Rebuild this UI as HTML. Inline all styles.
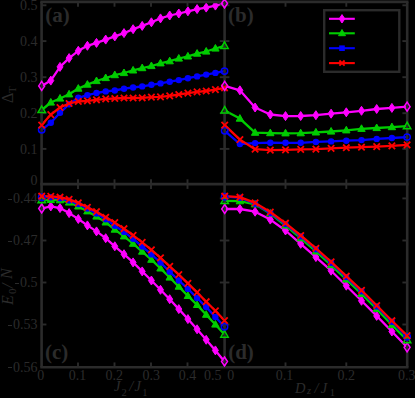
<!DOCTYPE html>
<html><head><meta charset="utf-8"><title>fig</title>
<style>
html,body{margin:0;padding:0;background:#000;}
#f{position:relative;width:415px;height:398px;background:#000;overflow:hidden;font-family:"Liberation Serif",serif;color:#2b2b2b;}
.t{position:absolute;font-size:14px;line-height:14px;white-space:nowrap;}
.r{text-align:right;width:40px;}
.m{display:inline-block;width:4.6px;height:1.2px;background:#2b2b2b;vertical-align:3.6px;margin-right:1px;}
.c{text-align:center;width:40px;}
.p{position:absolute;font-size:21px;line-height:21px;font-weight:bold;white-space:nowrap;}
.i{position:absolute;font-style:italic;white-space:nowrap;}
</style></head><body><div id="f">

<svg width="415" height="398" viewBox="0 0 415 398" style="position:absolute;left:0;top:0">
<polyline points="41.7,85.9 50.8,80.6 60.0,66.9 69.1,58.1 78.3,50.8 87.4,45.8 96.5,42.9 105.7,39.6 114.8,36.4 124.0,33.1 133.1,29.2 142.2,25.9 151.4,22.3 160.5,18.4 169.7,15.5 178.8,13.5 187.9,11.3 197.1,9.1 206.2,7.6 215.4,5.6 224.5,3.5" fill="none" stroke="#ff00ff" stroke-width="2.3" stroke-linejoin="round"/>
<path d="M50.8 76.1L53.8 80.6L50.8 85.1L47.8 80.6Z" fill="#ff00ff" stroke="#ff00ff" stroke-width="1"/>
<path d="M60.0 62.4L63.0 66.9L60.0 71.4L57.0 66.9Z" fill="#ff00ff" stroke="#ff00ff" stroke-width="1"/>
<path d="M69.1 53.6L72.1 58.1L69.1 62.6L66.1 58.1Z" fill="#ff00ff" stroke="#ff00ff" stroke-width="1"/>
<path d="M78.3 46.3L81.3 50.8L78.3 55.3L75.3 50.8Z" fill="#ff00ff" stroke="#ff00ff" stroke-width="1"/>
<path d="M87.4 41.3L90.4 45.8L87.4 50.3L84.4 45.8Z" fill="#ff00ff" stroke="#ff00ff" stroke-width="1"/>
<path d="M96.5 38.4L99.5 42.9L96.5 47.4L93.5 42.9Z" fill="#ff00ff" stroke="#ff00ff" stroke-width="1"/>
<path d="M105.7 35.1L108.7 39.6L105.7 44.1L102.7 39.6Z" fill="#ff00ff" stroke="#ff00ff" stroke-width="1"/>
<path d="M114.8 31.9L117.8 36.4L114.8 40.9L111.8 36.4Z" fill="#ff00ff" stroke="#ff00ff" stroke-width="1"/>
<path d="M124.0 28.6L127.0 33.1L124.0 37.6L121.0 33.1Z" fill="#ff00ff" stroke="#ff00ff" stroke-width="1"/>
<path d="M133.1 24.7L136.1 29.2L133.1 33.7L130.1 29.2Z" fill="#ff00ff" stroke="#ff00ff" stroke-width="1"/>
<path d="M142.2 21.4L145.2 25.9L142.2 30.4L139.2 25.9Z" fill="#ff00ff" stroke="#ff00ff" stroke-width="1"/>
<path d="M151.4 17.8L154.4 22.3L151.4 26.8L148.4 22.3Z" fill="#ff00ff" stroke="#ff00ff" stroke-width="1"/>
<path d="M160.5 13.9L163.5 18.4L160.5 22.9L157.5 18.4Z" fill="#ff00ff" stroke="#ff00ff" stroke-width="1"/>
<path d="M169.7 11.0L172.7 15.5L169.7 20.0L166.7 15.5Z" fill="#ff00ff" stroke="#ff00ff" stroke-width="1"/>
<path d="M178.8 9.0L181.8 13.5L178.8 18.0L175.8 13.5Z" fill="#ff00ff" stroke="#ff00ff" stroke-width="1"/>
<path d="M187.9 6.8L190.9 11.3L187.9 15.8L184.9 11.3Z" fill="#ff00ff" stroke="#ff00ff" stroke-width="1"/>
<path d="M197.1 4.6L200.1 9.1L197.1 13.6L194.1 9.1Z" fill="#ff00ff" stroke="#ff00ff" stroke-width="1"/>
<path d="M206.2 3.1L209.2 7.6L206.2 12.1L203.2 7.6Z" fill="#ff00ff" stroke="#ff00ff" stroke-width="1"/>
<path d="M215.4 1.1L218.4 5.6L215.4 10.1L212.4 5.6Z" fill="#ff00ff" stroke="#ff00ff" stroke-width="1"/>
<polyline points="41.7,110.0 50.8,102.5 60.0,98.5 69.1,94.3 78.3,88.6 87.4,84.6 96.5,81.0 105.7,78.0 114.8,75.1 124.0,73.0 133.1,70.4 142.2,68.1 151.4,66.0 160.5,63.3 169.7,61.2 178.8,58.5 187.9,56.4 197.1,53.6 206.2,51.5 215.4,48.5 224.5,45.9" fill="none" stroke="#00cc00" stroke-width="2.3" stroke-linejoin="round"/>
<path d="M50.8 98.5L54.5 105.1L47.1 105.1Z" fill="#00cc00" stroke="#00cc00" stroke-width="1"/>
<path d="M60.0 94.5L63.7 101.1L56.3 101.1Z" fill="#00cc00" stroke="#00cc00" stroke-width="1"/>
<path d="M69.1 90.3L72.8 96.9L65.4 96.9Z" fill="#00cc00" stroke="#00cc00" stroke-width="1"/>
<path d="M78.3 84.6L82.0 91.2L74.6 91.2Z" fill="#00cc00" stroke="#00cc00" stroke-width="1"/>
<path d="M87.4 80.6L91.1 87.2L83.7 87.2Z" fill="#00cc00" stroke="#00cc00" stroke-width="1"/>
<path d="M96.5 77.0L100.2 83.6L92.8 83.6Z" fill="#00cc00" stroke="#00cc00" stroke-width="1"/>
<path d="M105.7 74.0L109.4 80.6L102.0 80.6Z" fill="#00cc00" stroke="#00cc00" stroke-width="1"/>
<path d="M114.8 71.1L118.5 77.7L111.1 77.7Z" fill="#00cc00" stroke="#00cc00" stroke-width="1"/>
<path d="M124.0 69.0L127.7 75.6L120.3 75.6Z" fill="#00cc00" stroke="#00cc00" stroke-width="1"/>
<path d="M133.1 66.4L136.8 73.0L129.4 73.0Z" fill="#00cc00" stroke="#00cc00" stroke-width="1"/>
<path d="M142.2 64.1L145.9 70.7L138.5 70.7Z" fill="#00cc00" stroke="#00cc00" stroke-width="1"/>
<path d="M151.4 62.0L155.1 68.6L147.7 68.6Z" fill="#00cc00" stroke="#00cc00" stroke-width="1"/>
<path d="M160.5 59.3L164.2 65.9L156.8 65.9Z" fill="#00cc00" stroke="#00cc00" stroke-width="1"/>
<path d="M169.7 57.2L173.4 63.8L166.0 63.8Z" fill="#00cc00" stroke="#00cc00" stroke-width="1"/>
<path d="M178.8 54.5L182.5 61.1L175.1 61.1Z" fill="#00cc00" stroke="#00cc00" stroke-width="1"/>
<path d="M187.9 52.4L191.6 59.0L184.2 59.0Z" fill="#00cc00" stroke="#00cc00" stroke-width="1"/>
<path d="M197.1 49.6L200.8 56.2L193.4 56.2Z" fill="#00cc00" stroke="#00cc00" stroke-width="1"/>
<path d="M206.2 47.5L209.9 54.1L202.5 54.1Z" fill="#00cc00" stroke="#00cc00" stroke-width="1"/>
<path d="M215.4 44.5L219.1 51.1L211.7 51.1Z" fill="#00cc00" stroke="#00cc00" stroke-width="1"/>
<polyline points="41.7,129.8 50.8,122.7 60.0,112.8 69.1,104.2 78.3,97.8 87.4,95.1 96.5,93.0 105.7,91.4 114.8,90.5 124.0,88.7 133.1,87.5 142.2,86.4 151.4,84.8 160.5,83.4 169.7,81.7 178.8,80.1 187.9,78.2 197.1,76.4 206.2,74.6 215.4,72.9 224.5,71.1" fill="none" stroke="#0000ff" stroke-width="2.3" stroke-linejoin="round"/>
<circle cx="50.8" cy="122.7" r="3.2" fill="#0000ff"/>
<circle cx="60.0" cy="112.8" r="3.2" fill="#0000ff"/>
<circle cx="69.1" cy="104.2" r="3.2" fill="#0000ff"/>
<circle cx="78.3" cy="97.8" r="3.2" fill="#0000ff"/>
<circle cx="87.4" cy="95.1" r="3.2" fill="#0000ff"/>
<circle cx="96.5" cy="93.0" r="3.2" fill="#0000ff"/>
<circle cx="105.7" cy="91.4" r="3.2" fill="#0000ff"/>
<circle cx="114.8" cy="90.5" r="3.2" fill="#0000ff"/>
<circle cx="124.0" cy="88.7" r="3.2" fill="#0000ff"/>
<circle cx="133.1" cy="87.5" r="3.2" fill="#0000ff"/>
<circle cx="142.2" cy="86.4" r="3.2" fill="#0000ff"/>
<circle cx="151.4" cy="84.8" r="3.2" fill="#0000ff"/>
<circle cx="160.5" cy="83.4" r="3.2" fill="#0000ff"/>
<circle cx="169.7" cy="81.7" r="3.2" fill="#0000ff"/>
<circle cx="178.8" cy="80.1" r="3.2" fill="#0000ff"/>
<circle cx="187.9" cy="78.2" r="3.2" fill="#0000ff"/>
<circle cx="197.1" cy="76.4" r="3.2" fill="#0000ff"/>
<circle cx="206.2" cy="74.6" r="3.2" fill="#0000ff"/>
<circle cx="215.4" cy="72.9" r="3.2" fill="#0000ff"/>
<polyline points="41.7,125.1 50.8,114.6 60.0,107.5 69.1,103.5 78.3,101.5 87.4,100.8 96.5,99.8 105.7,98.9 114.8,98.5 124.0,98.0 133.1,98.0 142.2,97.8 151.4,97.1 160.5,96.9 169.7,95.9 178.8,94.5 187.9,93.1 197.1,91.9 206.2,91.0 215.4,89.6 224.5,87.8" fill="none" stroke="#ff0000" stroke-width="2.3" stroke-linejoin="round"/>
<path d="M47.6 111.4L54.0 117.8M47.6 117.8L54.0 111.4" stroke="#ff0000" stroke-width="1.8" fill="none"/>
<path d="M56.8 104.3L63.2 110.7M56.8 110.7L63.2 104.3" stroke="#ff0000" stroke-width="1.8" fill="none"/>
<path d="M65.9 100.3L72.3 106.7M65.9 106.7L72.3 100.3" stroke="#ff0000" stroke-width="1.8" fill="none"/>
<path d="M75.1 98.3L81.5 104.7M75.1 104.7L81.5 98.3" stroke="#ff0000" stroke-width="1.8" fill="none"/>
<path d="M84.2 97.6L90.6 104.0M84.2 104.0L90.6 97.6" stroke="#ff0000" stroke-width="1.8" fill="none"/>
<path d="M93.3 96.6L99.7 103.0M93.3 103.0L99.7 96.6" stroke="#ff0000" stroke-width="1.8" fill="none"/>
<path d="M102.5 95.7L108.9 102.1M102.5 102.1L108.9 95.7" stroke="#ff0000" stroke-width="1.8" fill="none"/>
<path d="M111.6 95.3L118.0 101.7M111.6 101.7L118.0 95.3" stroke="#ff0000" stroke-width="1.8" fill="none"/>
<path d="M120.8 94.8L127.2 101.2M120.8 101.2L127.2 94.8" stroke="#ff0000" stroke-width="1.8" fill="none"/>
<path d="M129.9 94.8L136.3 101.2M129.9 101.2L136.3 94.8" stroke="#ff0000" stroke-width="1.8" fill="none"/>
<path d="M139.0 94.6L145.4 101.0M139.0 101.0L145.4 94.6" stroke="#ff0000" stroke-width="1.8" fill="none"/>
<path d="M148.2 93.9L154.6 100.3M148.2 100.3L154.6 93.9" stroke="#ff0000" stroke-width="1.8" fill="none"/>
<path d="M157.3 93.7L163.7 100.1M157.3 100.1L163.7 93.7" stroke="#ff0000" stroke-width="1.8" fill="none"/>
<path d="M166.5 92.7L172.9 99.1M166.5 99.1L172.9 92.7" stroke="#ff0000" stroke-width="1.8" fill="none"/>
<path d="M175.6 91.3L182.0 97.7M175.6 97.7L182.0 91.3" stroke="#ff0000" stroke-width="1.8" fill="none"/>
<path d="M184.7 89.9L191.1 96.3M184.7 96.3L191.1 89.9" stroke="#ff0000" stroke-width="1.8" fill="none"/>
<path d="M193.9 88.7L200.3 95.1M193.9 95.1L200.3 88.7" stroke="#ff0000" stroke-width="1.8" fill="none"/>
<path d="M203.0 87.8L209.4 94.2M203.0 94.2L209.4 87.8" stroke="#ff0000" stroke-width="1.8" fill="none"/>
<path d="M212.2 86.4L218.6 92.8M212.2 92.8L218.6 86.4" stroke="#ff0000" stroke-width="1.8" fill="none"/>
<polyline points="224.7,85.9 239.9,90.3 255.1,107.5 270.3,114.5 285.5,116.1 300.7,116.0 315.9,115.2 331.1,113.7 346.3,112.3 361.5,110.8 376.7,109.0 391.9,107.9 407.1,106.7" fill="none" stroke="#ff00ff" stroke-width="2.3" stroke-linejoin="round"/>
<path d="M239.9 85.8L242.9 90.3L239.9 94.8L236.9 90.3Z" fill="#ff00ff" stroke="#ff00ff" stroke-width="1"/>
<path d="M255.1 103.0L258.1 107.5L255.1 112.0L252.1 107.5Z" fill="#ff00ff" stroke="#ff00ff" stroke-width="1"/>
<path d="M270.3 110.0L273.3 114.5L270.3 119.0L267.3 114.5Z" fill="#ff00ff" stroke="#ff00ff" stroke-width="1"/>
<path d="M285.5 111.6L288.5 116.1L285.5 120.6L282.5 116.1Z" fill="#ff00ff" stroke="#ff00ff" stroke-width="1"/>
<path d="M300.7 111.5L303.7 116.0L300.7 120.5L297.7 116.0Z" fill="#ff00ff" stroke="#ff00ff" stroke-width="1"/>
<path d="M315.9 110.7L318.9 115.2L315.9 119.7L312.9 115.2Z" fill="#ff00ff" stroke="#ff00ff" stroke-width="1"/>
<path d="M331.1 109.2L334.1 113.7L331.1 118.2L328.1 113.7Z" fill="#ff00ff" stroke="#ff00ff" stroke-width="1"/>
<path d="M346.3 107.8L349.3 112.3L346.3 116.8L343.3 112.3Z" fill="#ff00ff" stroke="#ff00ff" stroke-width="1"/>
<path d="M361.5 106.3L364.5 110.8L361.5 115.3L358.5 110.8Z" fill="#ff00ff" stroke="#ff00ff" stroke-width="1"/>
<path d="M376.7 104.5L379.7 109.0L376.7 113.5L373.7 109.0Z" fill="#ff00ff" stroke="#ff00ff" stroke-width="1"/>
<path d="M391.9 103.4L394.9 107.9L391.9 112.4L388.9 107.9Z" fill="#ff00ff" stroke="#ff00ff" stroke-width="1"/>
<polyline points="224.7,110.5 239.9,118.6 255.1,132.7 270.3,133.1 285.5,133.3 300.7,133.2 315.9,132.4 331.1,131.5 346.3,130.3 361.5,128.8 376.7,128.0 391.9,127.1 407.1,126.2" fill="none" stroke="#00cc00" stroke-width="2.3" stroke-linejoin="round"/>
<path d="M239.9 114.6L243.6 121.2L236.2 121.2Z" fill="#00cc00" stroke="#00cc00" stroke-width="1"/>
<path d="M255.1 128.7L258.8 135.3L251.4 135.3Z" fill="#00cc00" stroke="#00cc00" stroke-width="1"/>
<path d="M270.3 129.1L274.0 135.7L266.6 135.7Z" fill="#00cc00" stroke="#00cc00" stroke-width="1"/>
<path d="M285.5 129.3L289.2 135.9L281.8 135.9Z" fill="#00cc00" stroke="#00cc00" stroke-width="1"/>
<path d="M300.7 129.2L304.4 135.8L297.0 135.8Z" fill="#00cc00" stroke="#00cc00" stroke-width="1"/>
<path d="M315.9 128.4L319.6 135.0L312.2 135.0Z" fill="#00cc00" stroke="#00cc00" stroke-width="1"/>
<path d="M331.1 127.5L334.8 134.1L327.4 134.1Z" fill="#00cc00" stroke="#00cc00" stroke-width="1"/>
<path d="M346.3 126.3L350.0 132.9L342.6 132.9Z" fill="#00cc00" stroke="#00cc00" stroke-width="1"/>
<path d="M361.5 124.8L365.2 131.4L357.8 131.4Z" fill="#00cc00" stroke="#00cc00" stroke-width="1"/>
<path d="M376.7 124.0L380.4 130.6L373.0 130.6Z" fill="#00cc00" stroke="#00cc00" stroke-width="1"/>
<path d="M391.9 123.1L395.6 129.7L388.2 129.7Z" fill="#00cc00" stroke="#00cc00" stroke-width="1"/>
<polyline points="224.7,130.8 239.9,144.0 255.1,143.1 270.3,142.7 285.5,142.8 300.7,142.8 315.9,141.9 331.1,141.4 346.3,140.7 361.5,140.1 376.7,138.9 391.9,138.0 407.1,137.1" fill="none" stroke="#0000ff" stroke-width="2.3" stroke-linejoin="round"/>
<circle cx="239.9" cy="144.0" r="3.2" fill="#0000ff"/>
<circle cx="255.1" cy="143.1" r="3.2" fill="#0000ff"/>
<circle cx="270.3" cy="142.7" r="3.2" fill="#0000ff"/>
<circle cx="285.5" cy="142.8" r="3.2" fill="#0000ff"/>
<circle cx="300.7" cy="142.8" r="3.2" fill="#0000ff"/>
<circle cx="315.9" cy="141.9" r="3.2" fill="#0000ff"/>
<circle cx="331.1" cy="141.4" r="3.2" fill="#0000ff"/>
<circle cx="346.3" cy="140.7" r="3.2" fill="#0000ff"/>
<circle cx="361.5" cy="140.1" r="3.2" fill="#0000ff"/>
<circle cx="376.7" cy="138.9" r="3.2" fill="#0000ff"/>
<circle cx="391.9" cy="138.0" r="3.2" fill="#0000ff"/>
<polyline points="224.7,125.1 239.9,139.6 255.1,149.2 270.3,150.1 285.5,149.9 300.7,149.4 315.9,149.1 331.1,148.4 346.3,147.7 361.5,147.2 376.7,146.6 391.9,145.9 407.1,144.9" fill="none" stroke="#ff0000" stroke-width="2.3" stroke-linejoin="round"/>
<path d="M236.7 136.4L243.1 142.8M236.7 142.8L243.1 136.4" stroke="#ff0000" stroke-width="1.8" fill="none"/>
<path d="M251.9 146.0L258.3 152.4M251.9 152.4L258.3 146.0" stroke="#ff0000" stroke-width="1.8" fill="none"/>
<path d="M267.1 146.9L273.5 153.3M267.1 153.3L273.5 146.9" stroke="#ff0000" stroke-width="1.8" fill="none"/>
<path d="M282.3 146.7L288.7 153.1M282.3 153.1L288.7 146.7" stroke="#ff0000" stroke-width="1.8" fill="none"/>
<path d="M297.5 146.2L303.9 152.6M297.5 152.6L303.9 146.2" stroke="#ff0000" stroke-width="1.8" fill="none"/>
<path d="M312.7 145.9L319.1 152.3M312.7 152.3L319.1 145.9" stroke="#ff0000" stroke-width="1.8" fill="none"/>
<path d="M327.9 145.2L334.3 151.6M327.9 151.6L334.3 145.2" stroke="#ff0000" stroke-width="1.8" fill="none"/>
<path d="M343.1 144.5L349.5 150.9M343.1 150.9L349.5 144.5" stroke="#ff0000" stroke-width="1.8" fill="none"/>
<path d="M358.3 144.0L364.7 150.4M358.3 150.4L364.7 144.0" stroke="#ff0000" stroke-width="1.8" fill="none"/>
<path d="M373.5 143.4L379.9 149.8M373.5 149.8L379.9 143.4" stroke="#ff0000" stroke-width="1.8" fill="none"/>
<path d="M388.7 142.7L395.1 149.1M388.7 149.1L395.1 142.7" stroke="#ff0000" stroke-width="1.8" fill="none"/>
<polyline points="41.7,208.5 50.8,206.4 60.0,208.1 69.1,213.1 78.3,219.0 87.4,225.4 96.5,231.4 105.7,238.2 114.8,246.3 124.0,254.2 133.1,262.4 142.2,271.4 151.4,280.5 160.5,289.8 169.7,299.2 178.8,309.1 187.9,319.1 197.1,329.3 206.2,339.8 215.4,350.4 224.5,361.5" fill="none" stroke="#ff00ff" stroke-width="2.3" stroke-linejoin="round"/>
<path d="M50.8 201.9L53.8 206.4L50.8 210.9L47.8 206.4Z" fill="#ff00ff" stroke="#ff00ff" stroke-width="1"/>
<path d="M60.0 203.6L63.0 208.1L60.0 212.6L57.0 208.1Z" fill="#ff00ff" stroke="#ff00ff" stroke-width="1"/>
<path d="M69.1 208.6L72.1 213.1L69.1 217.6L66.1 213.1Z" fill="#ff00ff" stroke="#ff00ff" stroke-width="1"/>
<path d="M78.3 214.5L81.3 219.0L78.3 223.5L75.3 219.0Z" fill="#ff00ff" stroke="#ff00ff" stroke-width="1"/>
<path d="M87.4 220.9L90.4 225.4L87.4 229.9L84.4 225.4Z" fill="#ff00ff" stroke="#ff00ff" stroke-width="1"/>
<path d="M96.5 226.9L99.5 231.4L96.5 235.9L93.5 231.4Z" fill="#ff00ff" stroke="#ff00ff" stroke-width="1"/>
<path d="M105.7 233.7L108.7 238.2L105.7 242.7L102.7 238.2Z" fill="#ff00ff" stroke="#ff00ff" stroke-width="1"/>
<path d="M114.8 241.8L117.8 246.3L114.8 250.8L111.8 246.3Z" fill="#ff00ff" stroke="#ff00ff" stroke-width="1"/>
<path d="M124.0 249.7L127.0 254.2L124.0 258.7L121.0 254.2Z" fill="#ff00ff" stroke="#ff00ff" stroke-width="1"/>
<path d="M133.1 257.9L136.1 262.4L133.1 266.9L130.1 262.4Z" fill="#ff00ff" stroke="#ff00ff" stroke-width="1"/>
<path d="M142.2 266.9L145.2 271.4L142.2 275.9L139.2 271.4Z" fill="#ff00ff" stroke="#ff00ff" stroke-width="1"/>
<path d="M151.4 276.0L154.4 280.5L151.4 285.0L148.4 280.5Z" fill="#ff00ff" stroke="#ff00ff" stroke-width="1"/>
<path d="M160.5 285.3L163.5 289.8L160.5 294.3L157.5 289.8Z" fill="#ff00ff" stroke="#ff00ff" stroke-width="1"/>
<path d="M169.7 294.7L172.7 299.2L169.7 303.7L166.7 299.2Z" fill="#ff00ff" stroke="#ff00ff" stroke-width="1"/>
<path d="M178.8 304.6L181.8 309.1L178.8 313.6L175.8 309.1Z" fill="#ff00ff" stroke="#ff00ff" stroke-width="1"/>
<path d="M187.9 314.6L190.9 319.1L187.9 323.6L184.9 319.1Z" fill="#ff00ff" stroke="#ff00ff" stroke-width="1"/>
<path d="M197.1 324.8L200.1 329.3L197.1 333.8L194.1 329.3Z" fill="#ff00ff" stroke="#ff00ff" stroke-width="1"/>
<path d="M206.2 335.3L209.2 339.8L206.2 344.3L203.2 339.8Z" fill="#ff00ff" stroke="#ff00ff" stroke-width="1"/>
<path d="M215.4 345.9L218.4 350.4L215.4 354.9L212.4 350.4Z" fill="#ff00ff" stroke="#ff00ff" stroke-width="1"/>
<polyline points="41.7,200.2 50.8,199.9 60.0,200.2 69.1,202.5 78.3,206.4 87.4,211.3 96.5,216.5 105.7,222.4 114.8,229.6 124.0,236.3 133.1,243.7 142.2,251.6 151.4,259.7 160.5,268.4 169.7,277.5 178.8,286.6 187.9,295.9 197.1,304.9 206.2,314.7 215.4,324.5 224.5,334.6" fill="none" stroke="#00cc00" stroke-width="2.3" stroke-linejoin="round"/>
<path d="M50.8 195.9L54.5 202.5L47.1 202.5Z" fill="#00cc00" stroke="#00cc00" stroke-width="1"/>
<path d="M60.0 196.2L63.7 202.8L56.3 202.8Z" fill="#00cc00" stroke="#00cc00" stroke-width="1"/>
<path d="M69.1 198.5L72.8 205.1L65.4 205.1Z" fill="#00cc00" stroke="#00cc00" stroke-width="1"/>
<path d="M78.3 202.4L82.0 209.0L74.6 209.0Z" fill="#00cc00" stroke="#00cc00" stroke-width="1"/>
<path d="M87.4 207.3L91.1 213.9L83.7 213.9Z" fill="#00cc00" stroke="#00cc00" stroke-width="1"/>
<path d="M96.5 212.5L100.2 219.1L92.8 219.1Z" fill="#00cc00" stroke="#00cc00" stroke-width="1"/>
<path d="M105.7 218.4L109.4 225.0L102.0 225.0Z" fill="#00cc00" stroke="#00cc00" stroke-width="1"/>
<path d="M114.8 225.6L118.5 232.2L111.1 232.2Z" fill="#00cc00" stroke="#00cc00" stroke-width="1"/>
<path d="M124.0 232.3L127.7 238.9L120.3 238.9Z" fill="#00cc00" stroke="#00cc00" stroke-width="1"/>
<path d="M133.1 239.7L136.8 246.3L129.4 246.3Z" fill="#00cc00" stroke="#00cc00" stroke-width="1"/>
<path d="M142.2 247.6L145.9 254.2L138.5 254.2Z" fill="#00cc00" stroke="#00cc00" stroke-width="1"/>
<path d="M151.4 255.7L155.1 262.3L147.7 262.3Z" fill="#00cc00" stroke="#00cc00" stroke-width="1"/>
<path d="M160.5 264.4L164.2 271.0L156.8 271.0Z" fill="#00cc00" stroke="#00cc00" stroke-width="1"/>
<path d="M169.7 273.5L173.4 280.1L166.0 280.1Z" fill="#00cc00" stroke="#00cc00" stroke-width="1"/>
<path d="M178.8 282.6L182.5 289.2L175.1 289.2Z" fill="#00cc00" stroke="#00cc00" stroke-width="1"/>
<path d="M187.9 291.9L191.6 298.5L184.2 298.5Z" fill="#00cc00" stroke="#00cc00" stroke-width="1"/>
<path d="M197.1 300.9L200.8 307.5L193.4 307.5Z" fill="#00cc00" stroke="#00cc00" stroke-width="1"/>
<path d="M206.2 310.7L209.9 317.3L202.5 317.3Z" fill="#00cc00" stroke="#00cc00" stroke-width="1"/>
<path d="M215.4 320.5L219.1 327.1L211.7 327.1Z" fill="#00cc00" stroke="#00cc00" stroke-width="1"/>
<polyline points="41.7,197.2 50.8,197.2 60.0,198.3 69.1,200.6 78.3,204.1 87.4,208.5 96.5,213.6 105.7,219.3 114.8,225.8 124.0,231.9 133.1,238.8 142.2,246.5 151.4,254.4 160.5,262.5 169.7,271.7 178.8,280.5 187.9,288.9 197.1,298.0 206.2,307.1 215.4,317.0 224.5,326.7" fill="none" stroke="#0000ff" stroke-width="2.3" stroke-linejoin="round"/>
<circle cx="50.8" cy="197.2" r="3.2" fill="#0000ff"/>
<circle cx="60.0" cy="198.3" r="3.2" fill="#0000ff"/>
<circle cx="69.1" cy="200.6" r="3.2" fill="#0000ff"/>
<circle cx="78.3" cy="204.1" r="3.2" fill="#0000ff"/>
<circle cx="87.4" cy="208.5" r="3.2" fill="#0000ff"/>
<circle cx="96.5" cy="213.6" r="3.2" fill="#0000ff"/>
<circle cx="105.7" cy="219.3" r="3.2" fill="#0000ff"/>
<circle cx="114.8" cy="225.8" r="3.2" fill="#0000ff"/>
<circle cx="124.0" cy="231.9" r="3.2" fill="#0000ff"/>
<circle cx="133.1" cy="238.8" r="3.2" fill="#0000ff"/>
<circle cx="142.2" cy="246.5" r="3.2" fill="#0000ff"/>
<circle cx="151.4" cy="254.4" r="3.2" fill="#0000ff"/>
<circle cx="160.5" cy="262.5" r="3.2" fill="#0000ff"/>
<circle cx="169.7" cy="271.7" r="3.2" fill="#0000ff"/>
<circle cx="178.8" cy="280.5" r="3.2" fill="#0000ff"/>
<circle cx="187.9" cy="288.9" r="3.2" fill="#0000ff"/>
<circle cx="197.1" cy="298.0" r="3.2" fill="#0000ff"/>
<circle cx="206.2" cy="307.1" r="3.2" fill="#0000ff"/>
<circle cx="215.4" cy="317.0" r="3.2" fill="#0000ff"/>
<polyline points="41.7,196.2 50.8,196.4 60.0,197.2 69.1,199.3 78.3,202.9 87.4,207.3 96.5,211.7 105.7,217.3 114.8,222.6 124.0,228.7 133.1,235.3 142.2,242.4 151.4,249.9 160.5,257.8 169.7,266.4 178.8,274.6 187.9,283.4 197.1,292.4 206.2,301.7 215.4,310.8 224.5,320.5" fill="none" stroke="#ff0000" stroke-width="2.3" stroke-linejoin="round"/>
<path d="M47.6 193.2L54.0 199.6M47.6 199.6L54.0 193.2" stroke="#ff0000" stroke-width="1.8" fill="none"/>
<path d="M56.8 194.0L63.2 200.4M56.8 200.4L63.2 194.0" stroke="#ff0000" stroke-width="1.8" fill="none"/>
<path d="M65.9 196.1L72.3 202.5M65.9 202.5L72.3 196.1" stroke="#ff0000" stroke-width="1.8" fill="none"/>
<path d="M75.1 199.7L81.5 206.1M75.1 206.1L81.5 199.7" stroke="#ff0000" stroke-width="1.8" fill="none"/>
<path d="M84.2 204.1L90.6 210.5M84.2 210.5L90.6 204.1" stroke="#ff0000" stroke-width="1.8" fill="none"/>
<path d="M93.3 208.5L99.7 214.9M93.3 214.9L99.7 208.5" stroke="#ff0000" stroke-width="1.8" fill="none"/>
<path d="M102.5 214.1L108.9 220.5M102.5 220.5L108.9 214.1" stroke="#ff0000" stroke-width="1.8" fill="none"/>
<path d="M111.6 219.4L118.0 225.8M111.6 225.8L118.0 219.4" stroke="#ff0000" stroke-width="1.8" fill="none"/>
<path d="M120.8 225.5L127.2 231.9M120.8 231.9L127.2 225.5" stroke="#ff0000" stroke-width="1.8" fill="none"/>
<path d="M129.9 232.1L136.3 238.5M129.9 238.5L136.3 232.1" stroke="#ff0000" stroke-width="1.8" fill="none"/>
<path d="M139.0 239.2L145.4 245.6M139.0 245.6L145.4 239.2" stroke="#ff0000" stroke-width="1.8" fill="none"/>
<path d="M148.2 246.7L154.6 253.1M148.2 253.1L154.6 246.7" stroke="#ff0000" stroke-width="1.8" fill="none"/>
<path d="M157.3 254.6L163.7 261.0M157.3 261.0L163.7 254.6" stroke="#ff0000" stroke-width="1.8" fill="none"/>
<path d="M166.5 263.2L172.9 269.6M166.5 269.6L172.9 263.2" stroke="#ff0000" stroke-width="1.8" fill="none"/>
<path d="M175.6 271.4L182.0 277.8M175.6 277.8L182.0 271.4" stroke="#ff0000" stroke-width="1.8" fill="none"/>
<path d="M184.7 280.2L191.1 286.6M184.7 286.6L191.1 280.2" stroke="#ff0000" stroke-width="1.8" fill="none"/>
<path d="M193.9 289.2L200.3 295.6M193.9 295.6L200.3 289.2" stroke="#ff0000" stroke-width="1.8" fill="none"/>
<path d="M203.0 298.5L209.4 304.9M203.0 304.9L209.4 298.5" stroke="#ff0000" stroke-width="1.8" fill="none"/>
<path d="M212.2 307.6L218.6 314.0M212.2 314.0L218.6 307.6" stroke="#ff0000" stroke-width="1.8" fill="none"/>
<polyline points="224.7,209.0 239.9,209.0 255.1,211.7 270.3,219.6 285.5,230.5 300.7,243.8 315.9,257.1 331.1,270.7 346.3,285.7 361.5,300.8 376.7,315.9 391.9,331.5 407.1,347.3" fill="none" stroke="#ff00ff" stroke-width="2.3" stroke-linejoin="round"/>
<path d="M239.9 204.5L242.9 209.0L239.9 213.5L236.9 209.0Z" fill="#ff00ff" stroke="#ff00ff" stroke-width="1"/>
<path d="M255.1 207.2L258.1 211.7L255.1 216.2L252.1 211.7Z" fill="#ff00ff" stroke="#ff00ff" stroke-width="1"/>
<path d="M270.3 215.1L273.3 219.6L270.3 224.1L267.3 219.6Z" fill="#ff00ff" stroke="#ff00ff" stroke-width="1"/>
<path d="M285.5 226.0L288.5 230.5L285.5 235.0L282.5 230.5Z" fill="#ff00ff" stroke="#ff00ff" stroke-width="1"/>
<path d="M300.7 239.3L303.7 243.8L300.7 248.3L297.7 243.8Z" fill="#ff00ff" stroke="#ff00ff" stroke-width="1"/>
<path d="M315.9 252.6L318.9 257.1L315.9 261.6L312.9 257.1Z" fill="#ff00ff" stroke="#ff00ff" stroke-width="1"/>
<path d="M331.1 266.2L334.1 270.7L331.1 275.2L328.1 270.7Z" fill="#ff00ff" stroke="#ff00ff" stroke-width="1"/>
<path d="M346.3 281.2L349.3 285.7L346.3 290.2L343.3 285.7Z" fill="#ff00ff" stroke="#ff00ff" stroke-width="1"/>
<path d="M361.5 296.3L364.5 300.8L361.5 305.3L358.5 300.8Z" fill="#ff00ff" stroke="#ff00ff" stroke-width="1"/>
<path d="M376.7 311.4L379.7 315.9L376.7 320.4L373.7 315.9Z" fill="#ff00ff" stroke="#ff00ff" stroke-width="1"/>
<path d="M391.9 327.0L394.9 331.5L391.9 336.0L388.9 331.5Z" fill="#ff00ff" stroke="#ff00ff" stroke-width="1"/>
<polyline points="224.7,200.8 239.9,201.2 255.1,204.3 270.3,213.5 285.5,225.5 300.7,238.2 315.9,251.4 331.1,265.1 346.3,279.4 361.5,293.9 376.7,309.0 391.9,325.0 407.1,340.2" fill="none" stroke="#00cc00" stroke-width="2.3" stroke-linejoin="round"/>
<path d="M239.9 197.2L243.6 203.8L236.2 203.8Z" fill="#00cc00" stroke="#00cc00" stroke-width="1"/>
<path d="M255.1 200.3L258.8 206.9L251.4 206.9Z" fill="#00cc00" stroke="#00cc00" stroke-width="1"/>
<path d="M270.3 209.5L274.0 216.1L266.6 216.1Z" fill="#00cc00" stroke="#00cc00" stroke-width="1"/>
<path d="M285.5 221.5L289.2 228.1L281.8 228.1Z" fill="#00cc00" stroke="#00cc00" stroke-width="1"/>
<path d="M300.7 234.2L304.4 240.8L297.0 240.8Z" fill="#00cc00" stroke="#00cc00" stroke-width="1"/>
<path d="M315.9 247.4L319.6 254.0L312.2 254.0Z" fill="#00cc00" stroke="#00cc00" stroke-width="1"/>
<path d="M331.1 261.1L334.8 267.7L327.4 267.7Z" fill="#00cc00" stroke="#00cc00" stroke-width="1"/>
<path d="M346.3 275.4L350.0 282.0L342.6 282.0Z" fill="#00cc00" stroke="#00cc00" stroke-width="1"/>
<path d="M361.5 289.9L365.2 296.5L357.8 296.5Z" fill="#00cc00" stroke="#00cc00" stroke-width="1"/>
<path d="M376.7 305.0L380.4 311.6L373.0 311.6Z" fill="#00cc00" stroke="#00cc00" stroke-width="1"/>
<path d="M391.9 321.0L395.6 327.6L388.2 327.6Z" fill="#00cc00" stroke="#00cc00" stroke-width="1"/>
<polyline points="224.7,196.7 239.9,197.7 255.1,203.7 270.3,213.0 285.5,224.1 300.7,236.4 315.9,249.2 331.1,262.8 346.3,277.1 361.5,291.3 376.7,306.4 391.9,321.7 407.1,336.8" fill="none" stroke="#0000ff" stroke-width="2.3" stroke-linejoin="round"/>
<circle cx="239.9" cy="197.7" r="3.2" fill="#0000ff"/>
<circle cx="255.1" cy="203.7" r="3.2" fill="#0000ff"/>
<circle cx="270.3" cy="213.0" r="3.2" fill="#0000ff"/>
<circle cx="285.5" cy="224.1" r="3.2" fill="#0000ff"/>
<circle cx="300.7" cy="236.4" r="3.2" fill="#0000ff"/>
<circle cx="315.9" cy="249.2" r="3.2" fill="#0000ff"/>
<circle cx="331.1" cy="262.8" r="3.2" fill="#0000ff"/>
<circle cx="346.3" cy="277.1" r="3.2" fill="#0000ff"/>
<circle cx="361.5" cy="291.3" r="3.2" fill="#0000ff"/>
<circle cx="376.7" cy="306.4" r="3.2" fill="#0000ff"/>
<circle cx="391.9" cy="321.7" r="3.2" fill="#0000ff"/>
<polyline points="224.7,196.2 239.9,197.2 255.1,202.9 270.3,212.0 285.5,223.2 300.7,235.5 315.9,248.3 331.1,261.9 346.3,276.2 361.5,290.4 376.7,305.5 391.9,320.7 407.1,335.6" fill="none" stroke="#ff0000" stroke-width="2.3" stroke-linejoin="round"/>
<path d="M236.7 194.0L243.1 200.4M236.7 200.4L243.1 194.0" stroke="#ff0000" stroke-width="1.8" fill="none"/>
<path d="M251.9 199.7L258.3 206.1M251.9 206.1L258.3 199.7" stroke="#ff0000" stroke-width="1.8" fill="none"/>
<path d="M267.1 208.8L273.5 215.2M267.1 215.2L273.5 208.8" stroke="#ff0000" stroke-width="1.8" fill="none"/>
<path d="M282.3 220.0L288.7 226.4M282.3 226.4L288.7 220.0" stroke="#ff0000" stroke-width="1.8" fill="none"/>
<path d="M297.5 232.3L303.9 238.7M297.5 238.7L303.9 232.3" stroke="#ff0000" stroke-width="1.8" fill="none"/>
<path d="M312.7 245.1L319.1 251.5M312.7 251.5L319.1 245.1" stroke="#ff0000" stroke-width="1.8" fill="none"/>
<path d="M327.9 258.7L334.3 265.1M327.9 265.1L334.3 258.7" stroke="#ff0000" stroke-width="1.8" fill="none"/>
<path d="M343.1 273.0L349.5 279.4M343.1 279.4L349.5 273.0" stroke="#ff0000" stroke-width="1.8" fill="none"/>
<path d="M358.3 287.2L364.7 293.6M358.3 293.6L364.7 287.2" stroke="#ff0000" stroke-width="1.8" fill="none"/>
<path d="M373.5 302.3L379.9 308.7M373.5 308.7L379.9 302.3" stroke="#ff0000" stroke-width="1.8" fill="none"/>
<path d="M388.7 317.5L395.1 323.9M388.7 323.9L395.1 317.5" stroke="#ff0000" stroke-width="1.8" fill="none"/>
<line x1="40.300000000000004" y1="1.9" x2="408.5" y2="1.9" stroke="#2b2b2b" stroke-width="2.6"/>
<line x1="40.300000000000004" y1="184.1" x2="408.5" y2="184.1" stroke="#2b2b2b" stroke-width="2.6"/>
<line x1="40.300000000000004" y1="367.2" x2="408.5" y2="367.2" stroke="#2b2b2b" stroke-width="2.6"/>
<line x1="41.6" y1="1.9" x2="41.6" y2="367.2" stroke="#2b2b2b" stroke-width="2.6"/>
<line x1="224.6" y1="1.9" x2="224.6" y2="367.2" stroke="#2b2b2b" stroke-width="2.6"/>
<line x1="407.2" y1="1.9" x2="407.2" y2="367.2" stroke="#2b2b2b" stroke-width="2.6"/>
<line x1="78" y1="1.9" x2="78" y2="6.699999999999999" stroke="#2b2b2b" stroke-width="1.9"/>
<line x1="78" y1="179.29999999999998" x2="78" y2="188.9" stroke="#2b2b2b" stroke-width="1.9"/>
<line x1="78" y1="362.4" x2="78" y2="367.2" stroke="#2b2b2b" stroke-width="1.9"/>
<line x1="114.5" y1="1.9" x2="114.5" y2="6.699999999999999" stroke="#2b2b2b" stroke-width="1.9"/>
<line x1="114.5" y1="179.29999999999998" x2="114.5" y2="188.9" stroke="#2b2b2b" stroke-width="1.9"/>
<line x1="114.5" y1="362.4" x2="114.5" y2="367.2" stroke="#2b2b2b" stroke-width="1.9"/>
<line x1="151" y1="1.9" x2="151" y2="6.699999999999999" stroke="#2b2b2b" stroke-width="1.9"/>
<line x1="151" y1="179.29999999999998" x2="151" y2="188.9" stroke="#2b2b2b" stroke-width="1.9"/>
<line x1="151" y1="362.4" x2="151" y2="367.2" stroke="#2b2b2b" stroke-width="1.9"/>
<line x1="187.5" y1="1.9" x2="187.5" y2="6.699999999999999" stroke="#2b2b2b" stroke-width="1.9"/>
<line x1="187.5" y1="179.29999999999998" x2="187.5" y2="188.9" stroke="#2b2b2b" stroke-width="1.9"/>
<line x1="187.5" y1="362.4" x2="187.5" y2="367.2" stroke="#2b2b2b" stroke-width="1.9"/>
<line x1="285.5" y1="1.9" x2="285.5" y2="6.699999999999999" stroke="#2b2b2b" stroke-width="1.9"/>
<line x1="285.5" y1="179.29999999999998" x2="285.5" y2="188.9" stroke="#2b2b2b" stroke-width="1.9"/>
<line x1="285.5" y1="362.4" x2="285.5" y2="367.2" stroke="#2b2b2b" stroke-width="1.9"/>
<line x1="346.3" y1="1.9" x2="346.3" y2="6.699999999999999" stroke="#2b2b2b" stroke-width="1.9"/>
<line x1="346.3" y1="179.29999999999998" x2="346.3" y2="188.9" stroke="#2b2b2b" stroke-width="1.9"/>
<line x1="346.3" y1="362.4" x2="346.3" y2="367.2" stroke="#2b2b2b" stroke-width="1.9"/>
<line x1="41.6" y1="5.3" x2="46.4" y2="5.3" stroke="#2b2b2b" stroke-width="1.9"/>
<line x1="219.79999999999998" y1="5.3" x2="229.4" y2="5.3" stroke="#2b2b2b" stroke-width="1.9"/>
<line x1="402.4" y1="5.3" x2="407.2" y2="5.3" stroke="#2b2b2b" stroke-width="1.9"/>
<line x1="41.6" y1="41.1" x2="46.4" y2="41.1" stroke="#2b2b2b" stroke-width="1.9"/>
<line x1="219.79999999999998" y1="41.1" x2="229.4" y2="41.1" stroke="#2b2b2b" stroke-width="1.9"/>
<line x1="402.4" y1="41.1" x2="407.2" y2="41.1" stroke="#2b2b2b" stroke-width="1.9"/>
<line x1="41.6" y1="77.2" x2="46.4" y2="77.2" stroke="#2b2b2b" stroke-width="1.9"/>
<line x1="219.79999999999998" y1="77.2" x2="229.4" y2="77.2" stroke="#2b2b2b" stroke-width="1.9"/>
<line x1="402.4" y1="77.2" x2="407.2" y2="77.2" stroke="#2b2b2b" stroke-width="1.9"/>
<line x1="41.6" y1="113.2" x2="46.4" y2="113.2" stroke="#2b2b2b" stroke-width="1.9"/>
<line x1="219.79999999999998" y1="113.2" x2="229.4" y2="113.2" stroke="#2b2b2b" stroke-width="1.9"/>
<line x1="402.4" y1="113.2" x2="407.2" y2="113.2" stroke="#2b2b2b" stroke-width="1.9"/>
<line x1="41.6" y1="148.9" x2="46.4" y2="148.9" stroke="#2b2b2b" stroke-width="1.9"/>
<line x1="219.79999999999998" y1="148.9" x2="229.4" y2="148.9" stroke="#2b2b2b" stroke-width="1.9"/>
<line x1="402.4" y1="148.9" x2="407.2" y2="148.9" stroke="#2b2b2b" stroke-width="1.9"/>
<line x1="41.6" y1="198.4" x2="46.4" y2="198.4" stroke="#2b2b2b" stroke-width="1.9"/>
<line x1="219.79999999999998" y1="198.4" x2="229.4" y2="198.4" stroke="#2b2b2b" stroke-width="1.9"/>
<line x1="402.4" y1="198.4" x2="407.2" y2="198.4" stroke="#2b2b2b" stroke-width="1.9"/>
<line x1="41.6" y1="240.5" x2="46.4" y2="240.5" stroke="#2b2b2b" stroke-width="1.9"/>
<line x1="219.79999999999998" y1="240.5" x2="229.4" y2="240.5" stroke="#2b2b2b" stroke-width="1.9"/>
<line x1="402.4" y1="240.5" x2="407.2" y2="240.5" stroke="#2b2b2b" stroke-width="1.9"/>
<line x1="41.6" y1="282.5" x2="46.4" y2="282.5" stroke="#2b2b2b" stroke-width="1.9"/>
<line x1="219.79999999999998" y1="282.5" x2="229.4" y2="282.5" stroke="#2b2b2b" stroke-width="1.9"/>
<line x1="402.4" y1="282.5" x2="407.2" y2="282.5" stroke="#2b2b2b" stroke-width="1.9"/>
<line x1="41.6" y1="324.5" x2="46.4" y2="324.5" stroke="#2b2b2b" stroke-width="1.9"/>
<line x1="219.79999999999998" y1="324.5" x2="229.4" y2="324.5" stroke="#2b2b2b" stroke-width="1.9"/>
<line x1="402.4" y1="324.5" x2="407.2" y2="324.5" stroke="#2b2b2b" stroke-width="1.9"/>
<path d="M41.7 81.4L44.7 85.9L41.7 90.4L38.7 85.9Z" fill="none" stroke="#ff00ff" stroke-width="1.5"/>
<path d="M224.5 -1.0L227.5 3.5L224.5 8.0L221.5 3.5Z" fill="none" stroke="#ff00ff" stroke-width="1.5"/>
<path d="M41.7 106.0L45.4 112.6L38.0 112.6Z" fill="none" stroke="#00cc00" stroke-width="1.5"/>
<path d="M224.5 41.9L228.2 48.5L220.8 48.5Z" fill="none" stroke="#00cc00" stroke-width="1.5"/>
<circle cx="41.7" cy="129.8" r="3.2" fill="none" stroke="#0000ff" stroke-width="1.5"/>
<circle cx="224.5" cy="71.1" r="3.2" fill="none" stroke="#0000ff" stroke-width="1.5"/>
<path d="M38.5 121.9L44.9 128.3M38.5 128.3L44.9 121.9" stroke="#ff0000" stroke-width="1.8" fill="none"/>
<path d="M221.3 84.6L227.7 91.0M221.3 91.0L227.7 84.6" stroke="#ff0000" stroke-width="1.8" fill="none"/>
<path d="M224.7 81.4L227.7 85.9L224.7 90.4L221.7 85.9Z" fill="none" stroke="#ff00ff" stroke-width="1.5"/>
<path d="M407.1 102.2L410.1 106.7L407.1 111.2L404.1 106.7Z" fill="none" stroke="#ff00ff" stroke-width="1.5"/>
<path d="M224.7 106.5L228.4 113.1L221.0 113.1Z" fill="none" stroke="#00cc00" stroke-width="1.5"/>
<path d="M407.1 122.2L410.8 128.8L403.4 128.8Z" fill="none" stroke="#00cc00" stroke-width="1.5"/>
<circle cx="224.7" cy="130.8" r="3.2" fill="none" stroke="#0000ff" stroke-width="1.5"/>
<circle cx="407.1" cy="137.1" r="3.2" fill="none" stroke="#0000ff" stroke-width="1.5"/>
<path d="M221.5 121.9L227.9 128.3M221.5 128.3L227.9 121.9" stroke="#ff0000" stroke-width="1.8" fill="none"/>
<path d="M403.9 141.7L410.3 148.1M403.9 148.1L410.3 141.7" stroke="#ff0000" stroke-width="1.8" fill="none"/>
<path d="M41.7 204.0L44.7 208.5L41.7 213.0L38.7 208.5Z" fill="none" stroke="#ff00ff" stroke-width="1.5"/>
<path d="M224.5 357.0L227.5 361.5L224.5 366.0L221.5 361.5Z" fill="none" stroke="#ff00ff" stroke-width="1.5"/>
<path d="M41.7 196.2L45.4 202.8L38.0 202.8Z" fill="none" stroke="#00cc00" stroke-width="1.5"/>
<path d="M224.5 330.6L228.2 337.2L220.8 337.2Z" fill="none" stroke="#00cc00" stroke-width="1.5"/>
<circle cx="41.7" cy="197.2" r="3.2" fill="none" stroke="#0000ff" stroke-width="1.5"/>
<circle cx="224.5" cy="326.7" r="3.2" fill="none" stroke="#0000ff" stroke-width="1.5"/>
<path d="M38.5 193.0L44.9 199.4M38.5 199.4L44.9 193.0" stroke="#ff0000" stroke-width="1.8" fill="none"/>
<path d="M221.3 317.3L227.7 323.7M221.3 323.7L227.7 317.3" stroke="#ff0000" stroke-width="1.8" fill="none"/>
<path d="M224.7 204.5L227.7 209.0L224.7 213.5L221.7 209.0Z" fill="none" stroke="#ff00ff" stroke-width="1.5"/>
<path d="M407.1 342.8L410.1 347.3L407.1 351.8L404.1 347.3Z" fill="none" stroke="#ff00ff" stroke-width="1.5"/>
<path d="M224.7 196.8L228.4 203.4L221.0 203.4Z" fill="none" stroke="#00cc00" stroke-width="1.5"/>
<path d="M407.1 336.2L410.8 342.8L403.4 342.8Z" fill="none" stroke="#00cc00" stroke-width="1.5"/>
<circle cx="224.7" cy="196.7" r="3.2" fill="none" stroke="#0000ff" stroke-width="1.5"/>
<circle cx="407.1" cy="336.8" r="3.2" fill="none" stroke="#0000ff" stroke-width="1.5"/>
<path d="M221.5 193.0L227.9 199.4M221.5 199.4L227.9 193.0" stroke="#ff0000" stroke-width="1.8" fill="none"/>
<path d="M403.9 332.4L410.3 338.8M403.9 338.8L410.3 332.4" stroke="#ff0000" stroke-width="1.8" fill="none"/>
<rect x="324.2" y="10.2" width="75.1" height="61.6" fill="none" stroke="#2b2b2b" stroke-width="2.4"/>
<line x1="329" y1="18.8" x2="354.8" y2="18.8" stroke="#ff00ff" stroke-width="2.1"/>
<path d="M342.0 14.6L344.8 18.8L342.0 23.0L339.2 18.8Z" fill="#ff00ff" stroke="#ff00ff" stroke-width="1"/>
<line x1="329" y1="33.3" x2="354.8" y2="33.3" stroke="#00cc00" stroke-width="2.1"/>
<path d="M342.0 29.5L345.5 35.7L338.5 35.7Z" fill="#00cc00" stroke="#00cc00" stroke-width="1"/>
<line x1="329" y1="48.2" x2="354.8" y2="48.2" stroke="#0000ff" stroke-width="2.1"/>
<rect x="339.2" y="45.400000000000006" width="5.6" height="5.6" fill="#0000ff"/>
<line x1="329" y1="63.1" x2="354.8" y2="63.1" stroke="#ff0000" stroke-width="2.1"/>
<path d="M339.4 60.5L344.6 65.7M339.4 65.7L344.6 60.5" stroke="#ff0000" stroke-width="1.8" fill="none"/>
</svg>
<div class="t r" style="left:-2.4px;top:-0.8px">0.5</div>
<div class="t r" style="left:-2.4px;top:35.0px">0.4</div>
<div class="t r" style="left:-2.4px;top:71.1px">0.3</div>
<div class="t r" style="left:-2.4px;top:107.1px">0.2</div>
<div class="t r" style="left:-2.4px;top:142.8px">0.1</div>
<div class="t r" style="left:-2.4px;top:173.9px">0</div>
<div class="t r" style="left:-2.4px;top:192.3px"><span class="m"></span>0.44</div>
<div class="t r" style="left:-2.4px;top:234.4px"><span class="m"></span>0.47</div>
<div class="t r" style="left:-2.4px;top:276.4px"><span class="m"></span>0.5</div>
<div class="t r" style="left:-2.4px;top:318.4px"><span class="m"></span>0.53</div>
<div class="t r" style="left:-2.4px;top:360.7px"><span class="m"></span>0.56</div>
<div class="t c" style="left:20.8px;top:369.0px">0</div>
<div class="t c" style="left:57.6px;top:369.0px">0.1</div>
<div class="t c" style="left:94.2px;top:369.0px">0.2</div>
<div class="t c" style="left:131.2px;top:369.0px">0.3</div>
<div class="t c" style="left:167.4px;top:369.0px">0.4</div>
<div class="t c" style="left:264.6px;top:369.0px">0.1</div>
<div class="t c" style="left:326.3px;top:369.0px">0.2</div>
<div class="t c" style="left:386.8px;top:369.0px">0.3</div>
<div class="t r" style="left:181.6px;top:369.0px">0.5</div>
<div class="t" style="left:227.2px;top:369.0px">0</div>
<div class="p" style="left:45.2px;top:4.9px">(a)</div>
<div class="p" style="left:228.0px;top:4.7px">(b)</div>
<div class="p" style="left:45.0px;top:342.2px">(c)</div>
<div class="p" style="left:228.2px;top:341.7px">(d)</div>
<div class="i" style="left:113.9px;top:379.3px;font-size:14.5px;line-height:14.5px">J</div>
<div class="i" style="font-style:normal;left:121.4px;top:388.2px;font-size:10.5px;line-height:10.5px">2</div>
<div class="i" style="left:129.3px;top:379.3px;font-size:14.5px;line-height:14.5px">/</div>
<div class="i" style="left:134.4px;top:379.3px;font-size:14.5px;line-height:14.5px">J</div>
<div class="i" style="font-style:normal;left:142.2px;top:388.2px;font-size:10.5px;line-height:10.5px">1</div>
<div class="i" style="left:295.0px;top:380.6px;font-size:14.5px;line-height:14.5px">D</div>
<div class="i" style="left:307.0px;top:386.2px;font-size:10.5px;line-height:10.5px">z</div>
<div class="i" style="left:314.6px;top:380.6px;font-size:14.5px;line-height:14.5px">/</div>
<div class="i" style="left:320.8px;top:380.6px;font-size:14.5px;line-height:14.5px">J</div>
<div class="i" style="font-style:normal;left:329.8px;top:388.0px;font-size:10.5px;line-height:10.5px">1</div>
<div class="i" style="font-style:normal;left:13.0px;top:103.4px;font-size:16px;line-height:16px;transform-origin:0 0;transform:rotate(-90deg) translate(0,-13.4px)">Δ</div>
<div class="i" style="font-style:normal;left:15.8px;top:92.6px;font-size:11px;line-height:11px;transform-origin:0 0;transform:rotate(-90deg) translate(0,-9.2px)">T</div>
<div class="i" style="left:12.8px;top:304.6px;font-size:16px;line-height:16px;transform-origin:0 0;transform:rotate(-90deg) translate(0,-13.4px)">E</div>
<div class="i" style="font-style:normal;left:16.4px;top:293.6px;font-size:11px;line-height:11px;transform-origin:0 0;transform:rotate(-90deg) translate(0,-9.2px)">0</div>
<div class="i" style="left:12.8px;top:287.6px;font-size:16px;line-height:16px;transform-origin:0 0;transform:rotate(-90deg) translate(0,-13.4px)">/</div>
<div class="i" style="left:12.4px;top:279.2px;font-size:16px;line-height:16px;transform-origin:0 0;transform:rotate(-90deg) translate(0,-13.4px)">N</div>
</div></body></html>
